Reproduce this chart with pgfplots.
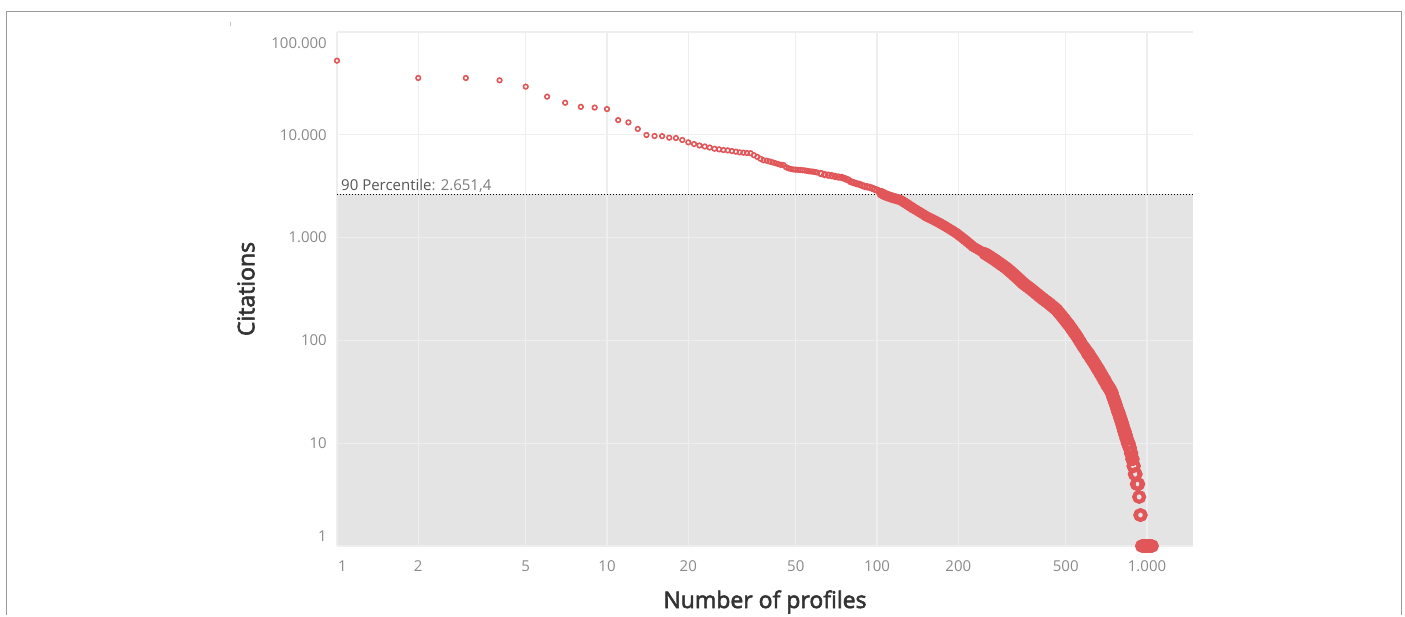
\documentclass[border=0pt]{standalone}
\usepackage{fontspec}
\setmainfont{Open Sans}
\newfontfamily\titlefont{Open Sans}[FakeBold=2.5]
\usepackage{pgfplots}
\pgfplotsset{compat=1.18}

\definecolor{dotred}{HTML}{E15759}
\definecolor{bandc}{HTML}{E4E4E4}
\definecolor{gridc}{HTML}{EEEEEE}
\definecolor{tickc}{HTML}{8A8A8A}
\definecolor{framec}{HTML}{9A9A9A}
\definecolor{titlec}{HTML}{333333}

\begin{document}
\begin{tikzpicture}
\path (0,0) rectangle (1405pt,615pt);
\draw[framec, line width=1.5pt] (6.7pt,0pt) -- (6.7pt,603.3pt) -- (1401.3pt,603.3pt) -- (1401.3pt,0pt);
\draw[framec!60, line width=0.8pt] (230pt,589pt) -- (230pt,593pt);
\begin{axis}[
    at={(337pt,69pt)}, anchor=south west,
    scale only axis,
    width=856pt, height=514pt,
    set layers,
    xmode=log, ymode=log,
    xmin=1, xmax=1480,
    ymin=1, ymax=100000,
    axis line style={draw=none},
    tick style={draw=none},
    major tick length=0pt, minor tick length=0pt,
    xminorticks=false, yminorticks=false,
    grid=major,
    major grid style={draw=gridc, line width=1.2pt},
    xtick={1,2,5,10,20,50,100,200,500,1000},
    xticklabels={\hspace*{11pt}1,2,5,10,20,50,100,200,500,1.000},
    ytick={1,10,100,1000,10000,100000},
    yticklabels={{\smash{\raisebox{4.5pt}{1}}},10,100,1.000,10.000,{\smash{\raisebox{-16.5pt}{100.000}}}},
    tick label style={font=\fontsize{15}{18}\selectfont, color=tickc, inner sep=0pt},
    yticklabel style={xshift=-10pt},
    xticklabel style={yshift=-14.5pt},
    xlabel={Number of profiles},
    ylabel={Citations},
    every axis x label/.style={at={(axis description cs:0.5,0)}, anchor=center, yshift=-56pt, font=\titlefont\fontsize{23}{26}\selectfont, color=titlec},
    every axis y label/.style={at={(axis description cs:0,0.5)}, anchor=center, xshift=-91pt, rotate=90, font=\titlefont\fontsize{23}{26}\selectfont, color=titlec},
]
\begin{pgfonlayer}{axis background}
\fill[bandc] (axis cs:1,1) rectangle (axis cs:1480,2651.4);
\end{pgfonlayer}
\draw[black, line width=1pt, dash pattern=on 1pt off 2pt] (axis cs:1,2651.4) -- (axis cs:1480,2651.4);
\node[anchor=base west, inner sep=0pt, font=\fontsize{15}{18}\selectfont] at ([xshift=4pt, yshift=4pt]axis cs:1,2651.4)
    {\textcolor[HTML]{555555}{90 Percentile}\textcolor[HTML]{7A7A7A}{: 2.651,4}};

% ranks 1-60
\addplot[dotred, only marks, mark=o, mark size=2.3pt, line width=1.6pt] coordinates {
(1,52600)(2,35700)(3,35700)(4,33900)(5,29400)(6,23500)(7,20500)(8,18700)(9,18400)(10,17800)
(11,13900)(12,13200)(13,11400)(14,9950)(15,9730)(16,9700)(17,9370)(18,9300)(19,8900)(20,8450)
(21,8130)(22,7870)(23,7700)(24,7520)(25,7320)(26,7220)(27,7110)(28,7050)(29,6950)(30,6850)
(31,6750)(32,6700)(33,6650)(34,6620)(35,6330)(36,6100)(37,5850)(38,5650)(39,5600)(40,5500)
(41,5400)(42,5300)(43,5200)(44,5100)(45,5080)(46,4850)(47,4720)(48,4650)(49,4600)(50,4580)
(51,4560)(52,4550)(53,4520)(54,4500)(55,4460)(56,4420)(57,4400)(58,4380)(59,4340)(60,4300)
};
% ranks 61-103
\addplot[dotred, only marks, mark=o, mark size=2.7pt, line width=1.9pt] coordinates {
(62,4200)(64,4100)(66,4050)(68,4000)(70,3930)(72,3880)(74,3850)(76,3750)(78,3650)(80,3500)
(82,3420)(84,3350)(86,3300)(88,3220)(90,3150)(92,3120)(94,3080)(96,3020)(98,2950)(100,2900)
(102,2800)
};
% ranks 104-250
\addplot[dotred, only marks, mark=o, mark size=4pt, line width=2.6pt] coordinates {
(104,2700)(106,2620)(108,2560)(110,2520)(112,2480)(114,2440)(116,2410)(118,2380)(120,2350)
(122,2320)(124,2260)(126,2201)(128,2145)(130,2089)(132,2035)(134,1982)(136,1930)(139,1867)
(142,1806)(145,1748)(148,1690)(151,1635)(153,1600)(156,1561)(159,1523)(162,1486)(165,1450)
(168,1414)(171,1380)(174,1344)(177,1310)(180,1276)(183,1243)(186,1211)(189,1180)(192,1149)
(195,1119)(197,1100)(200,1068)(203,1036)(206,1006)(209,976)(212,948)(215,919)(218,893)
(221,866)(224,841)(227,816)(231,795)(235,775)(239,755)(243,736)(247,718)
};
% ranks 251-600
\addplot[dotred, only marks, mark=o, mark size=4.9pt, line width=3.2pt] coordinates {
(251,699)(255,682)(259,665)(262,652)(266,635)(270,619)(274,603)(278,587)(282,572)(286,557)
(290,543)(294,529)(298,515)(302,502)(306,488)(310,474)(314,460)(318,447)(322,434)(326,421)
(330,409)(334,398)(338,386)(342,375)(346,364)(348,359)(353,349)(358,340)(363,330)(368,321)
(373,313)(378,304)(383,296)(388,287)(393,280)(398,272)(402,266)(407,260)(412,253)(417,247)
(422,241)(427,236)(432,230)(437,225)(442,219)(447,214)(452,209)(457,204)(463,198)(468,191)
(473,185)(478,179)(483,173)(488,167)(493,162)(498,157)(503,151)(508,146)(513,142)(519,136)
(524,131)(529,127)(534,122)(539,118)(544,114)(549,110)(554,106)(559,102)(564,98)(569,95)
(574,91)(581,87)(586,84)(591,82)(596,79)
};
% ranks 601-897
\addplot[dotred, only marks, mark=o, mark size=5.1pt, line width=3.4pt] coordinates {
(601,76)(606,74)(611,72)(616,69)(621,67)(626,65)(631,63)(636,61)(641,59)(646,57)
(651,55)(656,53)(661,52)(666,50)(671,48)(676,47)(681,45)(686,44)(691,42)(696,41)
(701,40)(706,38)(711,37)(716,36)(721,35)(726,34)(731,33)(736,32)(741,31)(745,29)
(749,28)(753,27)(757,26)(761,25)(765,24)(769,23)(773,22)(777,21)(781,20)(785,20)
(789,19)(792,18)(795,18)(798,17)(801,17)(804,16)(807,16)(810,15)(813,15)(816,14)
(819,14)(822,13)(825,13)(828,13)(830,12)(833,12)(836,12)(838,11)(841,11)(844,11)
(847,10)(850,10)(853,10)(856,10)(860,9)(863,9)(866,9)(870,8)(873,8)(876,8)
(880,7)(883,7)(886,7)(889,6)(892,6)(895,6)
};
% ranks 898 and beyond
\addplot[dotred, only marks, mark=o, mark size=4.9pt, line width=3.5pt] coordinates {
(898,5)(902,5)(906,5)(910,5)(914,4)(918,4)(922,4)(926,4)(930,4)(932,3)(935,3)(938,3)
(941,2)(944,2)(947,2)(950,2)(955,1)(961,1)(967,1)(973,1)(979,1)(985,1)(991,1)(997,1)
(1003,1)(1009,1)(1015,1)(1021,1)(1027,1)(1033,1)(1039,1)(1045,1)
};
\end{axis}
\end{tikzpicture}
\end{document}
